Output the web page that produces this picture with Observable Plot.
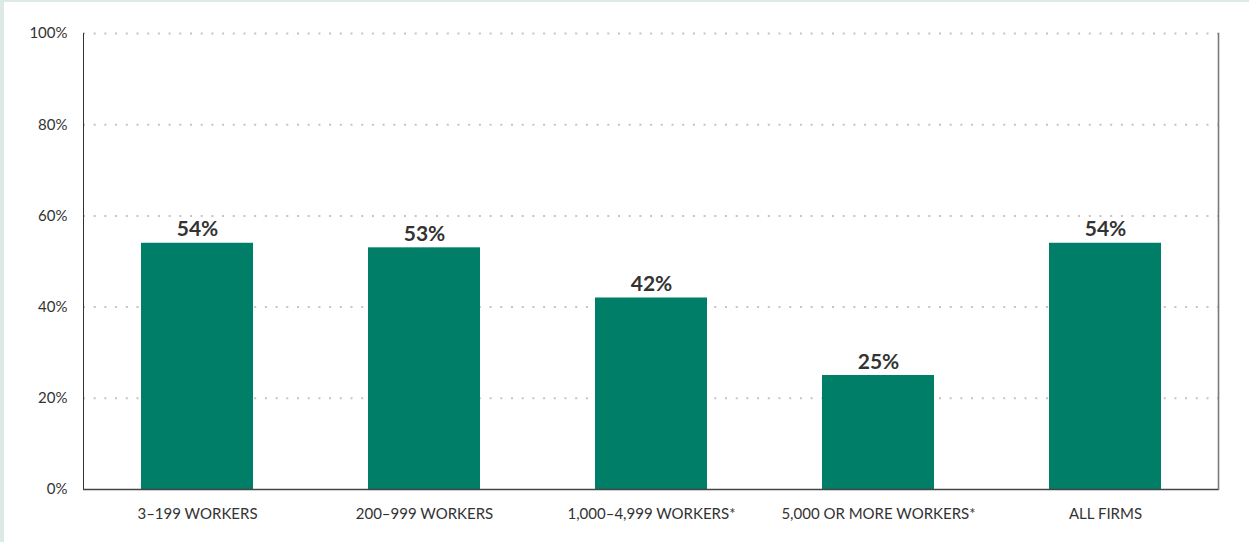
<!DOCTYPE html>
<html>
<head>
<meta charset="utf-8">
<script src="https://cdn.jsdelivr.net/npm/d3@7"></script>
<script src="https://cdn.jsdelivr.net/npm/@observablehq/plot@0.6"></script>
<style>
  html, body { margin: 0; padding: 0; background: #dde9e6; width: 1249px; height: 542px; overflow: hidden; }
  #chart { position: absolute; left: 4px; top: 2px; width: 1245px; height: 540px; background: #ffffff; }
  #chart svg { display: block; }
</style>
</head>
<body>
<div id="chart"></div>
<script>
const categories = ["3–199 WORKERS", "200–999 WORKERS", "1,000–4,999 WORKERS*", "5,000 OR MORE WORKERS*", "ALL FIRMS"];
const values = [54, 53, 42, 25, 54];
const yTicks = [0, 20, 40, 60, 80, 100];
const gridTicks = [20, 40, 60, 80, 100];

const data = categories.map((c, i) => ({cat: c, value: values[i]}));

const fontFamily = "Lato, 'Open Sans', sans-serif";

const chart = Plot.plot({
  width: 1245,
  height: 540,
  marginLeft: 79,
  marginRight: 31,
  marginTop: 31,
  marginBottom: 53,
  style: {fontFamily, background: "#ffffff", color: "#333333"},
  x: {domain: categories, paddingInner: 0.507, paddingOuter: 0.2535, label: null},
  y: {domain: [0, 100], label: null},
  marks: [
    Plot.ruleY(gridTicks, {stroke: "#c4c4c4", strokeWidth: 2, strokeDasharray: "2,8.7"}),
    Plot.barY(data, {x: "cat", y: "value", fill: "#007e68"}),
    Plot.text(data, {x: "cat", y: "value", text: d => d.value + "%", lineAnchor: "bottom", dy: -7, fontSize: 21, fontWeight: "bold", fill: "#333333"}),
    Plot.frame({anchor: "left", stroke: "#333333", strokeWidth: 1}),
    Plot.frame({anchor: "right", stroke: "#7a7a7a", strokeWidth: 1.6}),
    Plot.ruleY([0], {stroke: "#444444", strokeWidth: 1.3}),
    Plot.axisY({ticks: yTicks, tickSize: 0, tickPadding: 16, tickFormat: d => d + "%", fontSize: 15, label: null}),
    Plot.axisX({tickSize: 0, tickPadding: 19, fontSize: 15, label: null})
  ]
});
document.getElementById("chart").appendChild(chart);
</script>
</body>
</html>
